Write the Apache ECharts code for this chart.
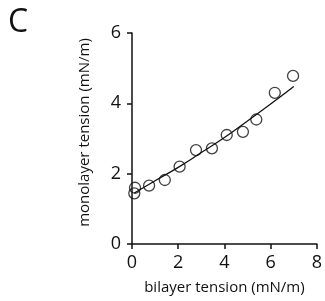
<!DOCTYPE html>
<html><head><meta charset="utf-8">
<script src="https://cdn.jsdelivr.net/npm/echarts@6/dist/echarts.min.js"></script>
<style>html,body{margin:0;padding:0;background:#fff}#c{width:325px;height:301px}</style>
</head><body><div id="c"></div>
<script>
const bilayerTension = [0.1, 0.13, 0.74, 1.42, 2.06, 2.77, 3.46, 4.1, 4.8, 5.38, 6.18, 6.97];
const monolayerTension = [1.44, 1.6, 1.66, 1.82, 2.2, 2.67, 2.72, 3.1, 3.19, 3.54, 4.3, 4.78];
const fitX = [0.1, 1, 2, 3, 4, 5, 6, 7];
const fitY = [1.45, 1.8, 2.18, 2.6, 3.03, 3.5, 3.98, 4.48];
const xTicks = [0, 2, 4, 6, 8];
const yTicks = [0, 2, 4, 6];

const font = '"Open Sans", sans-serif';
const chart = echarts.init(document.getElementById('c'), null, {renderer: 'canvas'});
chart.setOption({
  animation: false,
  title: {text: 'C', left: 3, top: 2, textStyle: {fontFamily: font, fontWeight: 'normal', fontSize: 32, color: '#111'}},
  grid: {left: 132, right: 6, top: 33, bottom: 57, containLabel: false},
  xAxis: {
    type: 'value', min: xTicks[0], max: xTicks[xTicks.length - 1], interval: 2,
    name: 'bilayer tension (mN/m)', nameLocation: 'middle', nameGap: 36,
    nameTextStyle: {fontFamily: font, fontSize: 15, color: '#111'},
    axisLine: {show: true, lineStyle: {color: '#111', width: 1.5}},
    axisTick: {show: true, length: 5, lineStyle: {color: '#111', width: 1.5}},
    axisLabel: {fontFamily: font, fontSize: 18, color: '#111', margin: 10},
    splitLine: {show: false}
  },
  yAxis: {
    type: 'value', min: yTicks[0], max: yTicks[yTicks.length - 1], interval: 2,
    name: 'monolayer tension (mN/m)', nameLocation: 'middle', nameGap: 40,
    nameTextStyle: {fontFamily: font, fontSize: 15, color: '#111', padding: [0, 0, 0, 12]},
    axisLine: {show: true, lineStyle: {color: '#111', width: 1.5}},
    axisTick: {show: true, length: 5, lineStyle: {color: '#111', width: 1.5}},
    axisLabel: {fontFamily: font, fontSize: 18, color: '#111', margin: 11},
    splitLine: {show: false}
  },
  series: [
    {
      type: 'line', data: fitX.map((x, i) => [x, fitY[i]]), smooth: true, showSymbol: false,
      lineStyle: {color: '#111', width: 1.3}, z: 2
    },
    {
      type: 'scatter', data: bilayerTension.map((x, i) => [x, monolayerTension[i]]),
      symbol: 'circle', symbolSize: 11,
      itemStyle: {color: 'rgba(255,255,255,0)', borderColor: '#111', borderWidth: 1.3}, z: 3
    }
  ]
});
</script></body></html>
